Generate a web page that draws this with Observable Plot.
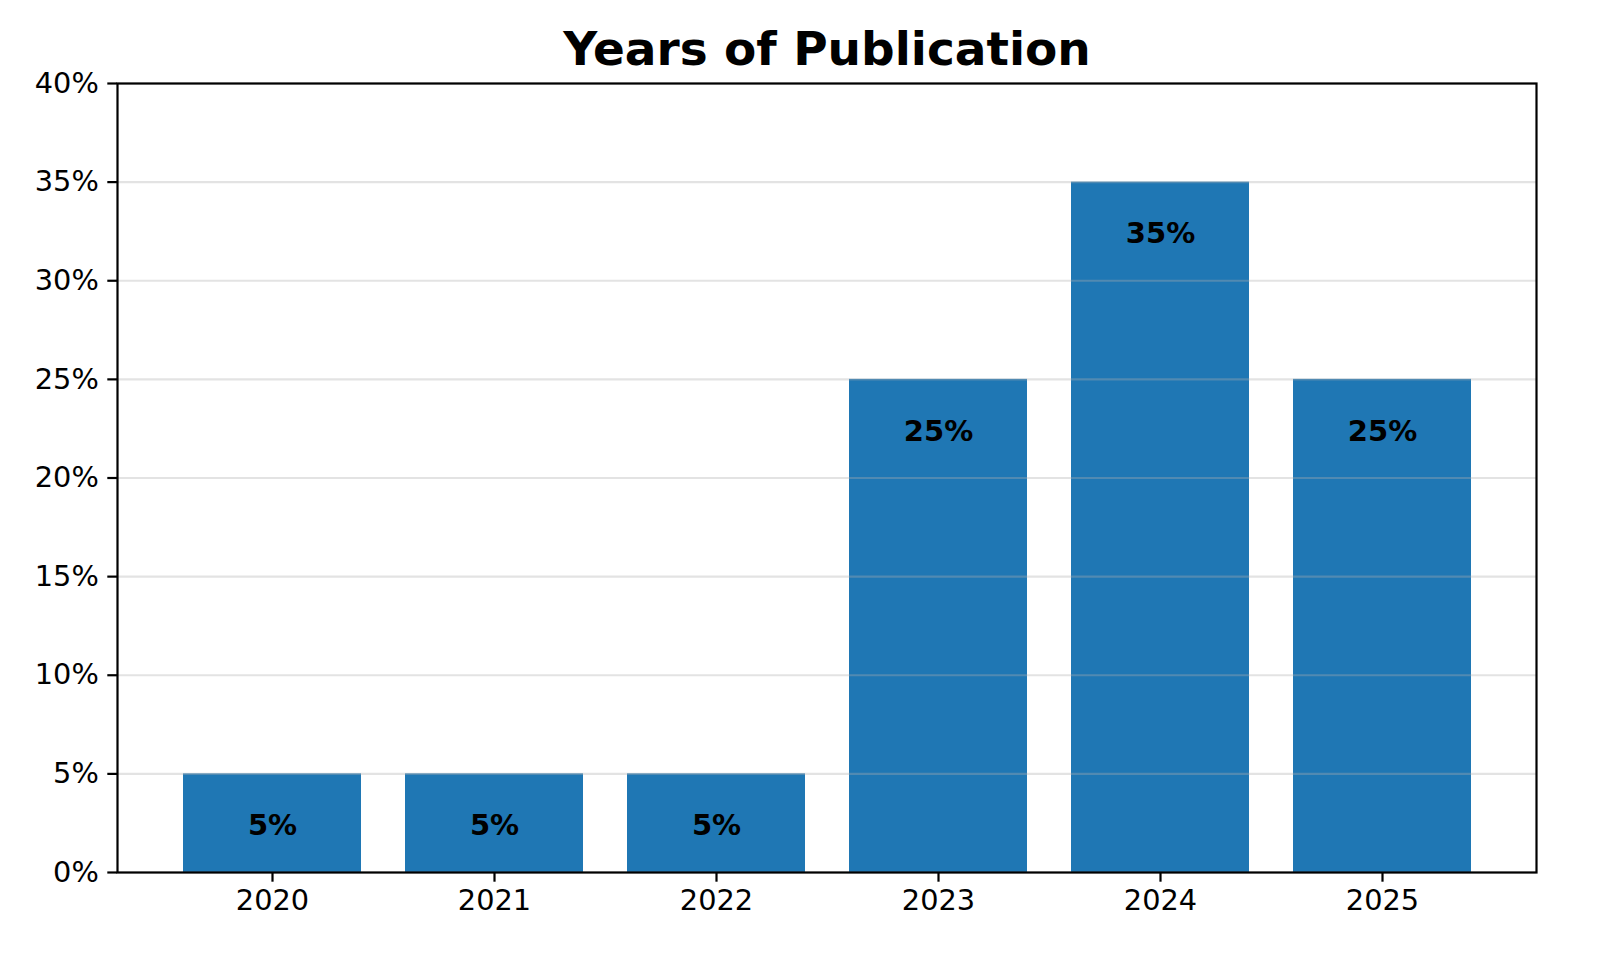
<!DOCTYPE html>
<html><head><meta charset="utf-8">
<script src="https://cdn.jsdelivr.net/npm/d3@7"></script>
<script src="https://cdn.jsdelivr.net/npm/@observablehq/plot@0.6"></script>
<style>html,body{margin:0;padding:0;background:#fff;overflow:hidden;} svg{display:block;max-width:none !important}</style>
</head><body><div id="chart"></div>
<script>
const years = ["2020","2021","2022","2023","2024","2025"];
const shares = [5,5,5,25,35,25];
const yTicks = [0,5,10,15,20,25,30,35,40];
const title = "Years of Publication";
const data = years.map((y,i)=>({year:y, share:shares[i]}));
const chart = Plot.plot({
  width:1600, height:973,
  marginLeft:117, marginRight:64, marginTop:83, marginBottom:101,
  style:{fontFamily:"DejaVu Sans", fontSize:"28.8px", color:"black", background:"white", maxWidth:"none"},
  x:{domain:years, paddingInner:0.2, paddingOuter:0.29},
  y:{domain:[0,40]},
  marks:[
    Plot.barY(data,{x:"year", y:"share", fill:"#1f77b4"}),
    Plot.gridY(yTicks,{stroke:"#b0b0b0", strokeOpacity:0.35, strokeWidth:2.2}),
    Plot.text(data,{x:"year", y:"share", text:d=>d.share+"%", dy:52, fontWeight:"bold", fontSize:29, fill:"black"}),
    Plot.frame({stroke:"black", strokeWidth:2.2}),
    Plot.axisY({ticks:yTicks, tickFormat:d=>d+"%", tickSize:9.7, tickPadding:9, strokeWidth:2.2, fontSize:28.8, label:null}),
    Plot.axisX({tickSize:9.7, tickPadding:7, strokeWidth:2.2, fontSize:28.8, label:null}),
    Plot.text([title],{frameAnchor:"top", dy:-52, fontWeight:"bold", fontSize:47, fill:"black"})
  ]
});
document.getElementById("chart").appendChild(chart);
</script></body></html>
